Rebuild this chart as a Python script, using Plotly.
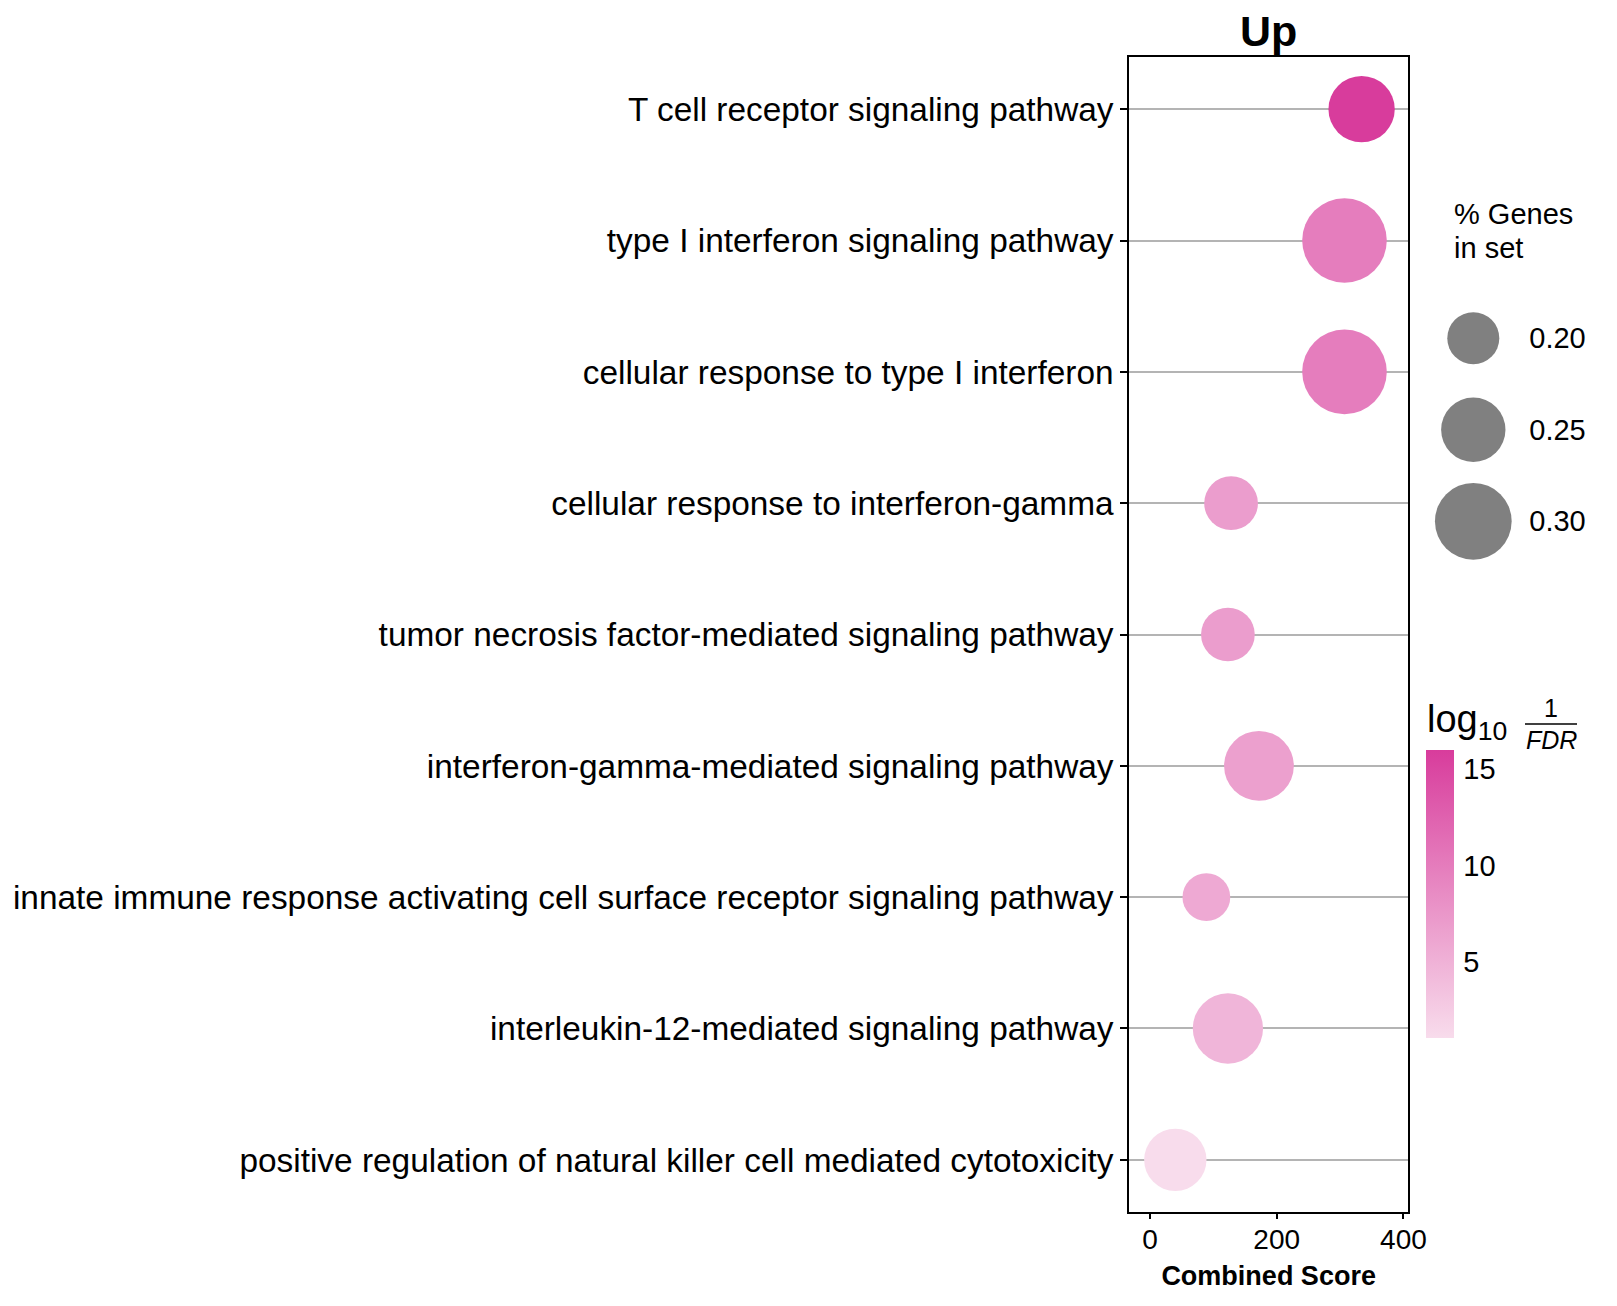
import plotly.graph_objects as go

# page is photographed at 1617x1306; the plot div sits 8px in from the page corner
W, H = 1601, 1290
OFF = 8

# ---------------- data ----------------
terms = [
    "T cell receptor signaling pathway",
    "type I interferon signaling pathway",
    "cellular response to type I interferon",
    "cellular response to interferon-gamma",
    "tumor necrosis factor-mediated signaling pathway",
    "interferon-gamma-mediated signaling pathway",
    "innate immune response activating cell surface receptor signaling pathway",
    "interleukin-12-mediated signaling pathway",
    "positive regulation of natural killer cell mediated cytotoxicity",
]
combined_score = [334, 307, 307, 128, 123, 172, 89, 123, 40]
pct_genes = [0.258, 0.332, 0.332, 0.207, 0.207, 0.272, 0.183, 0.274, 0.242]
log10_inv_fdr = [15.96, 9.9, 9.9, 6.9, 6.9, 6.7, 5.8, 4.7, 1.08]

size_legend_values = [0.20, 0.25, 0.30]
size_legend_labels = ["0.20", "0.25", "0.30"]
color_ticks = [5, 10, 15]
x_ticks = [0, 200, 400]

# ---------------- styling helpers ----------------
FONT = "Liberation Sans, Arial, sans-serif"
COLORSCALE = [[0.0, "#f8dcec"], [1.0, "#d83c9c"]]


def diam(v):
    # size scale: percent genes in set -> marker diameter (px)
    return 52 + (v - 0.20) * 247


def px(x):
    return (x - OFF) / W


def py(y):
    return 1 - (y - OFF) / H


fig = go.Figure()

fig.add_trace(go.Scatter(
    x=combined_score, y=terms, mode="markers", cliponaxis=False,
    marker=dict(
        size=[diam(v) for v in pct_genes], sizemode="diameter",
        color=log10_inv_fdr, colorscale=COLORSCALE,
        cmin=min(log10_inv_fdr), cmax=max(log10_inv_fdr),
        opacity=1, line=dict(width=0),
        colorbar=dict(
            x=px(1425.7), xanchor="left", xref="container",
            y=py(750), yanchor="top", yref="container",
            len=288 / H, lenmode="fraction", thickness=28,
            xpad=0, ypad=0, outlinewidth=0,
            tickvals=color_ticks, ticks="outside", ticklen=4,
            tickcolor="white", tickwidth=1.5,
            tickfont=dict(family=FONT, size=29, color="black"),
        ),
    ),
    showlegend=False, xaxis="x", yaxis="y",
))

# size legend drawn on its own small axes
fig.add_trace(go.Scatter(
    x=[0] * len(size_legend_values), y=size_legend_values, mode="markers",
    cliponaxis=False,
    marker=dict(size=[diam(v) for v in size_legend_values], sizemode="diameter",
                color="rgb(128,128,128)", opacity=1, line=dict(width=0)),
    showlegend=False, xaxis="x2", yaxis="y2",
))

fig.update_layout(
    width=W, height=H,
    margin=dict(l=0, r=0, t=0, b=0, autoexpand=False),
    paper_bgcolor="white", plot_bgcolor="white",
    font=dict(family=FONT, color="black"),
    xaxis=dict(
        domain=[px(1129), px(1408.3)], range=[-33.1, 407.7],
        tickvals=x_ticks, ticks="outside", ticklen=6, tickwidth=1.5,
        tickcolor="black", showgrid=False, zeroline=False,
        showline=True, linecolor="black", linewidth=1.5, mirror=True,
        tickfont=dict(size=28), automargin=False, ticklabelstandoff=-4,
        title=dict(text="<b>Combined Score</b>", font=dict(size=27), standoff=12),
        anchor="y",
    ),
    yaxis=dict(
        domain=[py(1211.7), py(57.3)],
        type="category", categoryorder="array", categoryarray=terms,
        range=[8.395, -0.395],
        ticks="outside", ticklen=7, tickwidth=1.5, tickcolor="black",
        showgrid=True, gridcolor="#b4b4b4", gridwidth=2,
        showline=True, linecolor="black", linewidth=1.5, mirror=True,
        tickfont=dict(size=33.4), automargin=False, anchor="x",
    ),
    xaxis2=dict(domain=[px(1441.3), px(1505.3)], range=[-1, 1],
                visible=False, anchor="y2"),
    yaxis2=dict(domain=[py(570), py(290)], range=[0.32661, 0.17366],
                anchor="x2", side="right", tickvals=size_legend_values,
                ticktext=size_legend_labels, ticks="", showgrid=False,
                zeroline=False, showline=False, ticklabelstandoff=23,
                tickfont=dict(size=29), automargin=False),
)

annotations = [
    dict(text="<b>Up</b>", x=px(1268.7), y=py(31), xanchor="center", yanchor="middle",
         font=dict(size=43)),
    dict(text="% Genes", x=px(1452), y=py(214), xanchor="left", yanchor="middle",
         font=dict(size=29)),
    dict(text="in set", x=px(1452), y=py(248), xanchor="left", yanchor="middle",
         font=dict(size=29)),
    dict(text="log<sub>10</sub>", x=px(1425), y=py(722), xanchor="left", yanchor="middle",
         font=dict(size=38)),
    dict(text="1", x=px(1551), y=py(708), xanchor="center", yanchor="middle",
         font=dict(size=25)),
    dict(text="<i>FDR</i>", x=px(1551), y=py(740), xanchor="center", yanchor="middle",
         font=dict(size=25)),
]
for a in annotations:
    a.update(xref="paper", yref="paper", showarrow=False)
fig.update_layout(annotations=annotations)

fig.add_shape(type="line", xref="paper", yref="paper",
              x0=px(1525), x1=px(1577), y0=py(724), y1=py(724),
              line=dict(color="black", width=1.5))

fig.write_html("out.html")
